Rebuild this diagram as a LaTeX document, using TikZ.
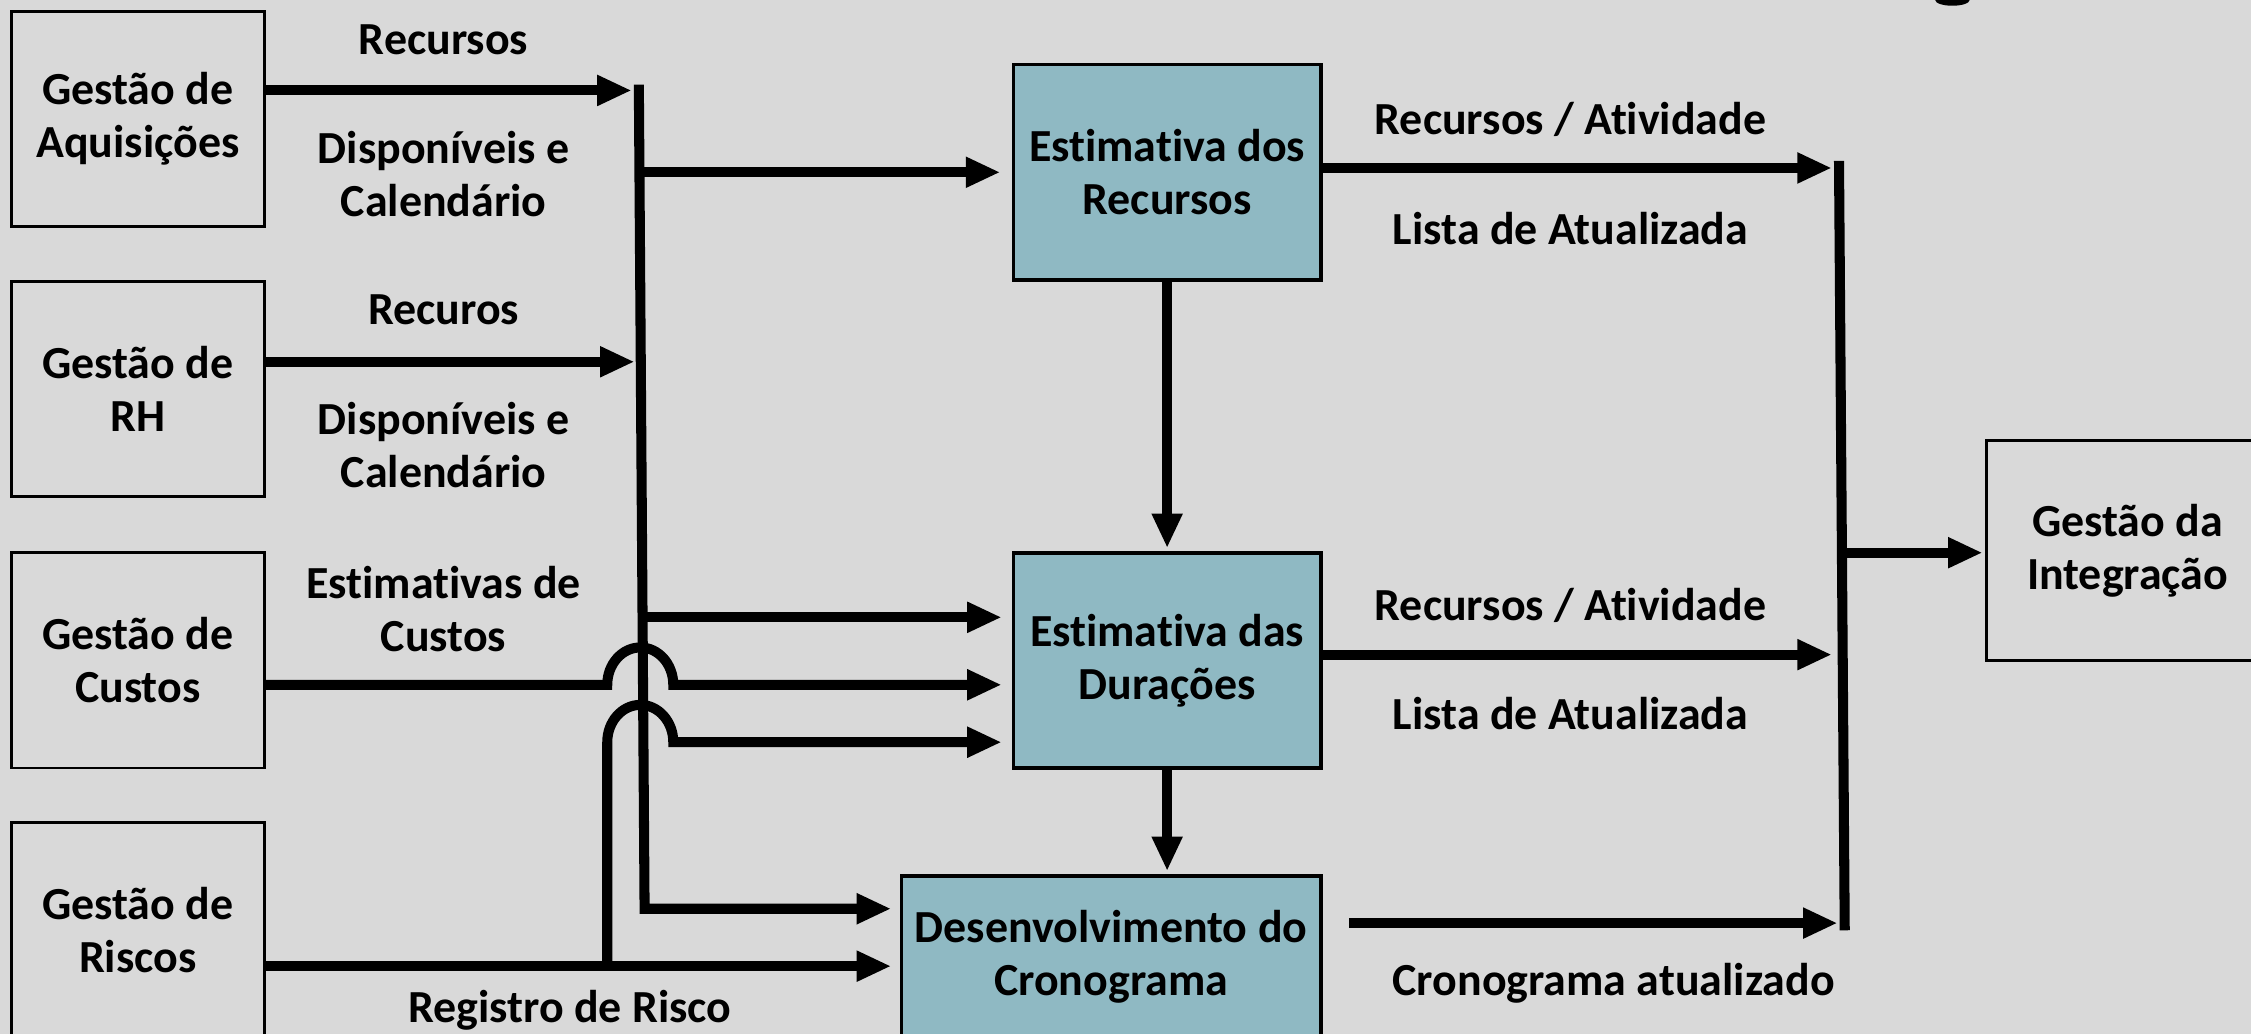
\documentclass[tikz,border=0pt]{standalone}
\usepackage{fontspec}
\setmainfont{Carlito}[Ligatures={NoCommon}]
\usetikzlibrary{arrows.meta}
\definecolor{bg}{HTML}{D9D9D9}
\definecolor{boxblue}{HTML}{8FB9C3}
\begin{document}
\begin{tikzpicture}[x=1pt,y=-1pt,
  every node/.style={font=\fontsize{32}{37}\selectfont\bfseries, align=center, inner sep=0pt},
  mgmt/.style={draw=black, line width=2pt, fill=bg, minimum width=176pt, minimum height=150pt},
  proc/.style={draw=black, line width=2.5pt, fill=boxblue, minimum width=214pt, minimum height=150pt},
  conn/.style={line width=7pt, line join=miter},
  arr/.style={conn, -{Triangle[length=24pt,width=20pt]}}]
\useasboundingbox (0,0) rectangle (1568,720);
\clip (0,0) rectangle (1568,720);
\fill[bg] (0,0) rectangle (1568,720);
\fill (1360,0) ellipse [x radius=12pt, y radius=4pt];
% nodes
\node[mgmt] (aq) at (96,83) {Gestão de\\Aquisições};
\node[mgmt] (rh) at (96,271) {Gestão de\\RH};
\node[mgmt] (cu) at (96,460) {Gestão de\\Custos};
\node[mgmt] (ri) at (96,648) {Gestão de\\Riscos};
\node[proc] (er) at (813,120) {Estimativa dos\\Recursos};
\node[proc] (ed) at (813,460) {Estimativa das\\Durações};
\node[proc, minimum width=292pt, minimum height=113pt] (dc) at (774,666.5) {Desenvolvimento do\\Cronograma};
\node[mgmt, minimum width=196pt, minimum height=153pt] (gi) at (1482,383.5) {Gestão da\\Integração};
% labels
\node (l1) at (309,28) {Recursos};
\node (l2) at (309,121.5) {Disponíveis e\\Calendário};
\node (l3) at (309,216) {Recuros};
\node (l4) at (309,310) {Disponíveis e\\Calendário};
\node (l5) at (309,424) {Estimativas de\\Custos};
\node (l6) at (397,704) {Registro de Risco};
\node (l7) at (1094,83) {Recursos / Atividade};
\node (l8) at (1094,159) {Lista de Atualizada};
\node (l9) at (1094,422) {Recursos / Atividade};
\node (l10) at (1094,497) {Lista de Atualizada};
\node (l11) at (1124,685) {Cronograma atualizado};
% coordinates
\coordinate (b1t) at (445,59);
\coordinate (b1b) at (449,633);
\coordinate (b2t) at (1281,112);
\coordinate (b2b) at (1285,648);
\coordinate (t1) at (440,63);
\coordinate (t2) at (442,252);
\coordinate (d1) at (447,430);
\coordinate (h1) at (423,477);
\coordinate (r1) at (423,673);
\coordinate (h2) at (423,517);
\coordinate (o1) at (920,117);
\coordinate (o2) at (920,456);
\coordinate (o3) at (940,643);
\coordinate (g1) at (1284,385);
% left connectors
\draw[arr] (aq.east |- t1) -- (t1);
\draw[arr] (rh.east |- t2) -- (t2);
\draw[arr, shorten >=6pt] (b1t) -- (b1b) -- (b1b -| dc.west);
\draw[arr, shorten >=8pt] (b1t |- er.west) -- (er.west);
\draw[arr, shorten >=7pt] (d1) -- (d1 -| ed.west);
\draw[arr, shorten >=7pt] (cu.east |- h1) -- (h1) arc[start angle=180, end angle=0, x radius=23pt, y radius=26pt] -- (h1 -| ed.west);
\draw[arr, shorten >=6pt] (ri.east |- r1) -- (r1 -| dc.west);
\draw[arr, shorten >=7pt] (r1) -- (h2) arc[start angle=180, end angle=0, x radius=23pt, y radius=26pt] -- (h2 -| ed.west);
% vertical between process boxes
\draw[arr, shorten >=2pt] (er.south) -- (ed.north);
\draw[arr, shorten >=2pt] (ed.south) -- (ed.south |- dc.north);
% right side
\draw[conn] (b2t) -- (b2b);
\draw[arr, shorten >=5pt] (er.east |- o1) -- (o1 -| b2t);
\draw[arr, shorten >=5pt] (ed.east |- o2) -- (o2 -| b2t);
\draw[arr, shorten >=5pt] (o3) -- (o3 -| b2b);
\draw[arr, shorten >=2pt] (g1) -- (g1 -| gi.west);
\end{tikzpicture}
\end{document}
